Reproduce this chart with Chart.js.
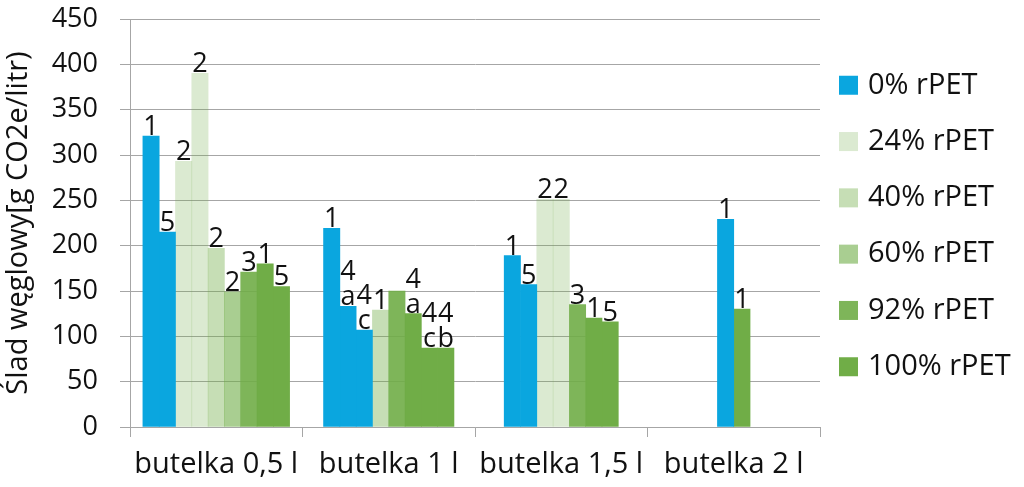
<!DOCTYPE html>
<html lang="pl">
<head>
<meta charset="UTF-8">
<title>Ślad węglowy butelek PET</title>
<script src="https://cdn.jsdelivr.net/npm/chart.js"></script>
<style>
  html, body { margin: 0; padding: 0; background: #fff; }
  .chart-container { position: relative; width: 1024px; height: 487px; }
</style>
</head>
<body>
<div class="chart-container"><canvas id="chart"></canvas></div>
<script>
const categories = ['butelka 0,5 l', 'butelka 1 l', 'butelka 1,5 l', 'butelka 2 l'];
const seriesNames = ['0% rPET', '24% rPET', '40% rPET', '60% rPET', '92% rPET', '100% rPET'];
const seriesColors = [
  '#0aa6df',
  'rgba(112,173,71,0.25)',
  'rgba(112,173,71,0.40)',
  'rgba(112,173,71,0.60)',
  'rgba(112,173,71,0.90)',
  'rgba(112,173,71,1)'
];
const yTicks = [0, 50, 100, 150, 200, 250, 300, 350, 400, 450];

// several bars of one series can sit in the same bottle group
const pet0a = [321, 219, 189, 229];
const pet0b = [215, 133, 157, null];
const pet0c = [null, 107, null, null];
const pet24a = [293, null, 251, null];
const pet24b = [390, null, 251, null];
const pet40 = [197, 129, null, null];
const pet60 = [149, null, null, null];
const pet92 = [171, 150, 135, null];
const pet100a = [180, 125, 120, 130];
const pet100b = [155, 87, 116, null];
const pet100c = [null, 87, null, null];

// source numbers printed above the bars
const notes0a = ['1', '1', '1', '1'];
const notes0b = ['5', '4\na', '5', ''];
const notes0c = ['', '4\nc', '', ''];
const notes24a = ['2', '', '2', ''];
const notes24b = ['2', '', '2', ''];
const notes40 = ['2', '1', '', ''];
const notes60 = ['2', '', '', ''];
const notes92 = ['3', '', '3', ''];
const notes100a = ['1', '4\na', '1', '1'];
const notes100b = ['5', '4\nc', '5', ''];
const notes100c = ['', '4\nb', '', ''];

const bars = [
  [0, pet0a, notes0a], [0, pet0b, notes0b], [0, pet0c, notes0c],
  [1, pet24a, notes24a], [1, pet24b, notes24b],
  [2, pet40, notes40],
  [3, pet60, notes60],
  [4, pet92, notes92],
  [5, pet100a, notes100a], [5, pet100b, notes100b], [5, pet100c, notes100c]
];

const FONT = 'Open Sans';

const barNotes = {
  id: 'barNotes',
  afterDatasetsDraw(chart) {
    const ctx = chart.ctx;
    ctx.save();
    ctx.font = '27px "' + FONT + '"';
    ctx.fillStyle = '#111';
    ctx.textAlign = 'center';
    ctx.textBaseline = 'alphabetic';
    chart.data.datasets.forEach((ds, di) => {
      const meta = chart.getDatasetMeta(di);
      meta.data.forEach((el, i) => {
        const note = ds.notes[i];
        if (ds.data[i] == null || !note) return;
        const lines = note.split('\n').reverse();
        lines.forEach((line, k) => {
          ctx.fillText(line, el.x, el.y - 1 - k * 25);
        });
      });
    });
    ctx.restore();
  }
};

const sideLegend = {
  id: 'sideLegend',
  afterDraw(chart) {
    const ctx = chart.ctx;
    const area = chart.chartArea;
    const step = 56.3;
    const mid = (area.top + area.bottom) / 2 + 3;
    ctx.save();
    ctx.font = '29px "' + FONT + '"';
    ctx.textBaseline = 'middle';
    ctx.textAlign = 'left';
    seriesNames.forEach((name, i) => {
      const y = mid + (i - (seriesNames.length - 1) / 2) * step;
      ctx.fillStyle = seriesColors[i];
      ctx.fillRect(area.right + 19, y - 9.5, 19, 19);
      ctx.fillStyle = '#111';
      ctx.fillText(name, area.right + 48, y);
    });
    ctx.restore();
  }
};

new Chart(document.getElementById('chart'), {
  type: 'bar',
  data: {
    labels: categories,
    datasets: bars.map(([s, values, notes]) => ({
      label: seriesNames[s],
      data: values,
      notes: notes,
      backgroundColor: seriesColors[s],
      borderWidth: 0,
      barThickness: 16.3,
      skipNull: true
    }))
  },
  options: {
    responsive: true,
    maintainAspectRatio: false,
    animation: false,
    layout: { padding: { top: 19, right: 204, bottom: 0, left: 0 } },
    plugins: {
      legend: { display: false },
      tooltip: { enabled: false }
    },
    scales: {
      x: {
        offset: true,
        grid: { offset: true, drawOnChartArea: false, drawTicks: true, tickLength: 10, color: '#a6a6a6' },
        border: { color: '#a6a6a6' },
        ticks: { color: '#111', padding: 10, font: { family: FONT, size: 29 } },
        afterFit(scale) { scale.height = 60; }
      },
      y: {
        min: 0,
        max: 450,
        afterBuildTicks(scale) { scale.ticks = yTicks.map(v => ({ value: v })); },
        grid: { color: '#a6a6a6', tickLength: 10 },
        border: { color: '#a6a6a6' },
        ticks: { color: '#111', padding: 22, font: { family: FONT, size: 27 } },
        title: {
          display: true,
          text: 'Ślad węglowy[g CO2e/litr)',
          color: '#111',
          padding: { top: 1, bottom: 0 },
          font: { family: FONT, size: 29 }
        },
        afterFit(scale) {
          scale.width = 130;
          scale.paddingTop = 0;
          scale.paddingBottom = 0;
        }
      }
    }
  },
  plugins: [barNotes, sideLegend]
});
</script>
</body>
</html>
